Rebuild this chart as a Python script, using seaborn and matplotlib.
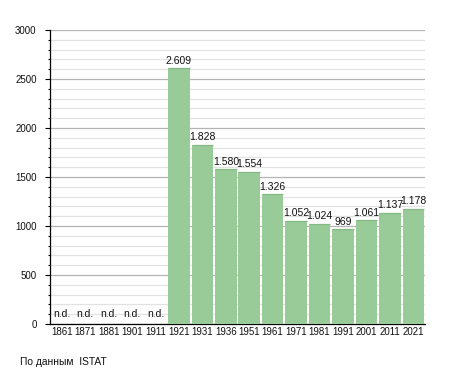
import numpy as np
import pandas as pd
import matplotlib
matplotlib.use("Agg")
import matplotlib.pyplot as plt
import seaborn as sns
from matplotlib.ticker import MultipleLocator

years = ["1861", "1871", "1881", "1901", "1911", "1921", "1931", "1936", "1951",
         "1961", "1971", "1981", "1991", "2001", "2011", "2021"]
population = [np.nan, np.nan, np.nan, np.nan, np.nan, 2609, 1828, 1580, 1554,
              1326, 1052, 1024, 969, 1061, 1137, 1178]
source_text = "По данным  ISTAT"

sns.set_theme(style="white")
plt.rcParams['font.family'] = ['Liberation Sans', 'DejaVu Sans']

df = pd.DataFrame({"year": years, "pop": population})

fig = plt.figure(figsize=(4.55, 3.73), dpi=100)
ax = fig.add_axes([50/455, 1 - 324/373, 375/455, 294/373])

sns.barplot(data=df, x="year", y="pop", order=years, color="#98cb98",
            saturation=1, width=0.92, ax=ax, zorder=3, edgecolor="none")

# slightly darker top edge on each bar, taken from the drawn patches
for p in ax.patches:
    h = p.get_height()
    if np.isfinite(h) and h > 0:
        ax.plot([p.get_x(), p.get_x() + p.get_width()], [h, h],
                color="#86b886", linewidth=0.9, zorder=4, solid_capstyle="butt")

ax.set_ylim(0, 3000)
ax.set_xlim(-0.5, len(years) - 0.5)
ax.yaxis.set_major_locator(MultipleLocator(500))
ax.yaxis.set_minor_locator(MultipleLocator(100))
ax.grid(which="major", axis="y", color="#b4b4b4", linewidth=0.9, zorder=0)
ax.grid(which="minor", axis="y", color="#e2e2e2", linewidth=0.9, zorder=0)
ax.set_axisbelow(True)

for s in ["top", "right"]:
    ax.spines[s].set_visible(False)
for s in ["left", "bottom"]:
    ax.spines[s].set_color("black")
    ax.spines[s].set_linewidth(0.9)

ax.tick_params(axis="y", which="major", left=True, length=3.6, width=0.8,
               color="black", labelsize=7, pad=6, labelcolor="#111111")
ax.tick_params(axis="y", which="minor", left=True, length=1.8, width=0.8, color="black")
ax.tick_params(axis="x", which="both", bottom=False, length=0, labelsize=7, pad=2.5,
               labelcolor="#111111")
ax.set_xlabel("")
ax.set_ylabel("")

for i, v in enumerate(population):
    if np.isnan(v):
        ax.text(i, 55, "n.d.", ha="center", va="bottom", fontsize=7.5, color="#111111")
    else:
        ax.text(i, v + 25, f"{int(v):,}".replace(",", "."), ha="center",
                va="bottom", fontsize=7.5, color="#111111")

fig.text(20/455, 1 - 362/373, source_text, ha="left", va="center",
         fontsize=7.4, color="#111111")

fig.savefig("out.png", dpi=100)
